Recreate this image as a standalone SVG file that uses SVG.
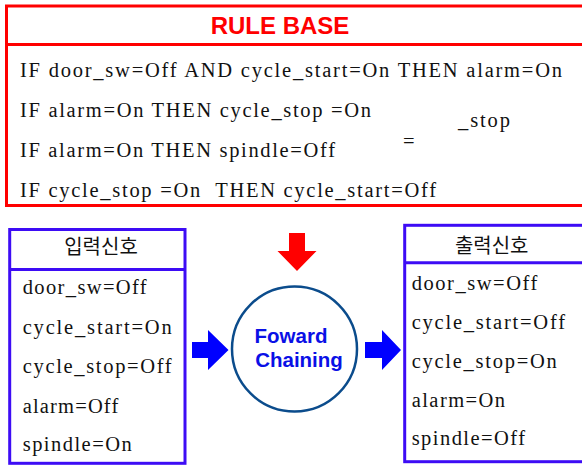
<svg xmlns="http://www.w3.org/2000/svg" width="582" height="466" viewBox="0 0 582 466">
  <style>
    .rule-frame { fill: #ffffff; stroke: #ff0000; stroke-width: 3; }
    .rule-line { stroke: #ff0000; stroke-width: 3; }
    .sig-frame { fill: #ffffff; stroke: #3d0cf5; stroke-width: 3; }
    .sig-line { stroke: #3d0cf5; stroke-width: 3; }
    .title { font-family: "Liberation Sans", Arial, sans-serif; font-weight: bold; font-size: 24px; fill: #ff0000; }
    .serif { font-family: "Liberation Serif", "Times New Roman", serif; font-size: 20.5px; fill: #111111; }
    .kr { font-family: "Noto Sans CJK KR", "Noto Sans", sans-serif; font-size: 20px; fill: #111111; }
    .engine { font-family: "Liberation Sans", Arial, sans-serif; font-weight: bold; font-size: 20.5px; fill: #0a10e6; }
    .blue-arrow { fill: #0000ff; }
    .red-arrow { fill: #ff0000; }
  </style>

  <rect width="582" height="466" fill="#ffffff"/>

  <!-- rule base panel -->
  <g id="rule-base">
    <rect class="rule-frame" x="6.5" y="6" width="590" height="199.5"/>
    <line class="rule-line" x1="6.5" y1="44.5" x2="596" y2="44.5"/>
    <text class="title" x="280" y="34" text-anchor="middle">RULE BASE</text>
    <text class="serif" x="20" y="77" textLength="542" lengthAdjust="spacing">IF door_sw=Off AND cycle_start=On THEN alarm=On</text>
    <text class="serif" x="20" y="117" textLength="351" lengthAdjust="spacing">IF alarm=On THEN cycle_stop =On</text>
    <text class="serif" x="20" y="157" textLength="315" lengthAdjust="spacing">IF alarm=On THEN spindle=Off</text>
    <text class="serif" x="20" y="197" textLength="416" lengthAdjust="spacing" xml:space="preserve">IF cycle_stop =On  THEN cycle_start=Off</text>
    <text class="serif" x="458" y="127" textLength="52" lengthAdjust="spacing">_stop</text>
    <text class="serif" x="403" y="148" font-size="16">=</text>
  </g>

  <!-- input signals -->
  <g id="input-signals">
    <rect class="sig-frame" x="9.7" y="229.5" width="175.3" height="233.8"/>
    <line class="sig-line" x1="9.7" y1="269.5" x2="185" y2="269.5"/>
    <text class="kr" x="101" y="254" text-anchor="middle">입력신호</text>
    <text class="serif" x="22.7" y="294" textLength="124" lengthAdjust="spacing">door_sw=Off</text>
    <text class="serif" x="22.7" y="334" textLength="149" lengthAdjust="spacing">cycle_start=On</text>
    <text class="serif" x="22.7" y="373" textLength="149" lengthAdjust="spacing">cycle_stop=Off</text>
    <text class="serif" x="22.7" y="412.5" textLength="95.6" lengthAdjust="spacing">alarm=Off</text>
    <text class="serif" x="22.7" y="451" textLength="109" lengthAdjust="spacing">spindle=On</text>
  </g>

  <!-- inference engine -->
  <g id="forward-chaining">
    <circle cx="294.5" cy="349" r="62.5" fill="#ffffff" stroke="#0b4c8c" stroke-width="2.5"/>
    <text class="engine" x="291" y="342.7" text-anchor="middle">Foward</text>
    <text class="engine" x="299" y="366.7" text-anchor="middle">Chaining</text>
  </g>

  <!-- output signals -->
  <g id="output-signals">
    <rect class="sig-frame" x="404.7" y="225.3" width="180" height="236.4"/>
    <line class="sig-line" x1="404.7" y1="262.8" x2="585" y2="262.8"/>
    <text class="kr" x="491.7" y="253" text-anchor="middle">출력신호</text>
    <text class="serif" x="411.7" y="290" textLength="125.6" lengthAdjust="spacing">door_sw=Off</text>
    <text class="serif" x="411.7" y="329.3" textLength="153.3" lengthAdjust="spacing">cycle_start=Off</text>
    <text class="serif" x="411.7" y="368.3" textLength="145" lengthAdjust="spacing">cycle_stop=On</text>
    <text class="serif" x="411.7" y="407.3" textLength="93.3" lengthAdjust="spacing">alarm=On</text>
    <text class="serif" x="411.7" y="445" textLength="113.3" lengthAdjust="spacing">spindle=Off</text>
  </g>

  <!-- block arrows between panels -->
  <g id="connectors">
    <polygon class="red-arrow" points="289,233 305,233 305,251 316.5,251 297,271 277.5,251 289,251"/>
    <polygon class="blue-arrow" points="192,342 208,342 208,330 228.5,350 208,370 208,358 192,358"/>
    <polygon class="blue-arrow" points="365,342 382,342 382,330 401,350 382,370 382,358 365,358"/>
  </g>
</svg>
